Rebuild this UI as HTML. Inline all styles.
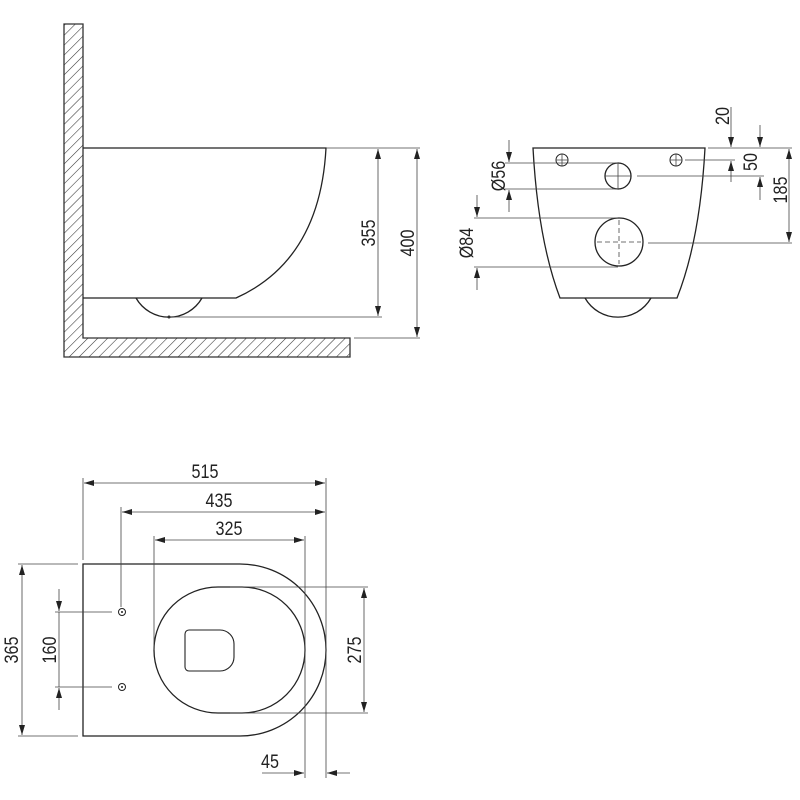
<!DOCTYPE html>
<html><head><meta charset="utf-8"><style>html,body{margin:0;padding:0;background:#fff}svg{display:block}text{font-family:"Liberation Sans",sans-serif;font-size:19px;fill:#222}</style></head><body>
<svg width="800" height="800" viewBox="0 0 800 800" xmlns="http://www.w3.org/2000/svg">
<defs>
<pattern id="h" width="7" height="7" patternUnits="userSpaceOnUse" patternTransform="rotate(45)">
<line x1="0" y1="0" x2="0" y2="7" stroke="#333" stroke-width="1.1"/>
</pattern>
<marker id="a" viewBox="0 0 10 6" refX="10" refY="3" markerWidth="10" markerHeight="6" orient="auto-start-reverse" markerUnits="userSpaceOnUse"><path d="M0,0 L10,3 L0,6z" fill="#222"/></marker>
</defs>
<g fill="none" stroke="#222" stroke-width="1.3">
<path d="M64,24 H83 V338 H350 V357 H64 Z" fill="url(#h)" stroke="#333"/>
<path d="M83,148 H326 Q320,260 236,298 H83" />
<path d="M136,298 A38,38 0 0 0 202,298"/>
</g>
<circle cx="169" cy="317" r="1.5" fill="#222"/>
<g stroke="#444" stroke-width="0.8" fill="none">
<line x1="326" y1="148" x2="420" y2="148"/>
<line x1="168" y1="317" x2="382" y2="317"/>
<line x1="354" y1="338" x2="420" y2="338"/>
<line x1="378" y1="149" x2="378" y2="316" marker-start="url(#a)" marker-end="url(#a)"/>
<line x1="417" y1="149" x2="417" y2="337" marker-start="url(#a)" marker-end="url(#a)"/>
</g>
<text transform="translate(375,233) rotate(-90) scale(0.85,1)" text-anchor="middle">355</text>
<text transform="translate(414,243) rotate(-90) scale(0.85,1)" text-anchor="middle">400</text>

<g fill="none" stroke="#222" stroke-width="1.3">
<path d="M533,148 H705 Q700,240 677,298 H560 Q538,240 533,148 Z"/>
<path d="M585,298 A38,38 0 0 0 651,298"/>
<circle cx="562" cy="160" r="6" stroke-width="1"/>
<circle cx="676" cy="160" r="6" stroke-width="1"/>
<circle cx="618" cy="176" r="13"/>
<circle cx="619" cy="242" r="24"/>
</g>
<g stroke="#444" stroke-width="0.8" fill="none">
<path d="M556,160 H568 M562,154 V166 M670,160 H682 M676,154 V166"/>
<path d="M605,176 H631 M618,163 V189"/>
<path d="M597,242 H641 M619,220 V264" stroke-dasharray="5,3"/>
<line x1="505" y1="163" x2="618" y2="163"/>
<line x1="505" y1="189" x2="618" y2="189"/>
<line x1="509" y1="140" x2="509" y2="162" marker-end="url(#a)"/>
<line x1="509" y1="212" x2="509" y2="190" marker-end="url(#a)"/>
<line x1="474" y1="218" x2="618" y2="218"/>
<line x1="474" y1="267" x2="618" y2="267"/>
<line x1="477" y1="195" x2="477" y2="217" marker-end="url(#a)"/>
<line x1="477" y1="290" x2="477" y2="268" marker-end="url(#a)"/>
<line x1="708" y1="148" x2="792" y2="148"/>
<line x1="685" y1="160" x2="735" y2="160"/>
<line x1="637" y1="176" x2="764" y2="176"/>
<line x1="648" y1="243" x2="792" y2="243"/>
<line x1="731" y1="107" x2="731" y2="147" marker-end="url(#a)"/>
<line x1="731" y1="182" x2="731" y2="161" marker-end="url(#a)"/>
<line x1="760" y1="125" x2="760" y2="147" marker-end="url(#a)"/>
<line x1="760" y1="200" x2="760" y2="177" marker-end="url(#a)"/>
<line x1="789" y1="149" x2="789" y2="242" marker-start="url(#a)" marker-end="url(#a)"/>
</g>
<text transform="translate(729,116) rotate(-90) scale(0.85,1)" text-anchor="middle">20</text>
<text transform="translate(757,162) rotate(-90) scale(0.85,1)" text-anchor="middle">50</text>
<text transform="translate(787,190) rotate(-90) scale(0.85,1)" text-anchor="middle">185</text>
<text transform="translate(505,176) rotate(-90) scale(0.85,1)" text-anchor="middle">Ø56</text>
<text transform="translate(473,243) rotate(-90) scale(0.85,1)" text-anchor="middle">Ø84</text>

<g fill="none" stroke="#222" stroke-width="1.3">
<path d="M83,564 H240 A86,86 0 0 1 240,736 H83 Z"/>
<path d="M218,587 H242 A63,63 0 0 1 242,713 H218 A64,63 0 0 1 218,587 Z"/>
<path d="M189,630 H220 A14,14 0 0 1 234,644 V657 A14,14 0 0 1 220,671 H189 A4,4 0 0 1 185,667 V634 A4,4 0 0 1 189,630 Z" stroke-width="1.1"/>
<circle cx="122" cy="612" r="3.5" stroke-width="1"/>
<circle cx="122" cy="687" r="3.5" stroke-width="1"/>
</g>
<circle cx="122" cy="612" r="1" fill="#222"/>
<circle cx="122" cy="687" r="1" fill="#222"/>
<g stroke="#444" stroke-width="0.8" fill="none">
<line x1="83" y1="478" x2="83" y2="560"/>
<line x1="326" y1="478" x2="326" y2="778"/>
<line x1="121" y1="507" x2="121" y2="607"/>
<line x1="154" y1="536" x2="154" y2="650"/>
<line x1="305" y1="536" x2="305" y2="778"/>
<line x1="84" y1="483" x2="325" y2="483" marker-start="url(#a)" marker-end="url(#a)"/>
<line x1="122" y1="512" x2="325" y2="512" marker-start="url(#a)" marker-end="url(#a)"/>
<line x1="155" y1="540" x2="304" y2="540" marker-start="url(#a)" marker-end="url(#a)"/>
<line x1="18" y1="564" x2="78" y2="564"/>
<line x1="18" y1="736" x2="78" y2="736"/>
<line x1="22" y1="565" x2="22" y2="735" marker-start="url(#a)" marker-end="url(#a)"/>
<line x1="55" y1="612" x2="112" y2="612"/>
<line x1="55" y1="687" x2="112" y2="687"/>
<line x1="59" y1="589" x2="59" y2="611" marker-end="url(#a)"/>
<line x1="59" y1="710" x2="59" y2="688" marker-end="url(#a)"/>
<line x1="59" y1="612" x2="59" y2="687"/>
<line x1="230" y1="587" x2="368" y2="587"/>
<line x1="230" y1="713" x2="368" y2="713"/>
<line x1="364" y1="588" x2="364" y2="712" marker-start="url(#a)" marker-end="url(#a)"/>
<line x1="262" y1="773" x2="304" y2="773" marker-end="url(#a)"/>
<line x1="350" y1="773" x2="327" y2="773" marker-end="url(#a)"/>
</g>
<text transform="translate(205,478) scale(0.85,1)" text-anchor="middle">515</text>
<text transform="translate(219,507) scale(0.85,1)" text-anchor="middle">435</text>
<text transform="translate(229,535) scale(0.85,1)" text-anchor="middle">325</text>
<text transform="translate(270,768) scale(0.85,1)" text-anchor="middle">45</text>
<text transform="translate(18,650) rotate(-90) scale(0.85,1)" text-anchor="middle">365</text>
<text transform="translate(56,650) rotate(-90) scale(0.85,1)" text-anchor="middle">160</text>
<text transform="translate(361,650) rotate(-90) scale(0.85,1)" text-anchor="middle">275</text>
</svg>
</body></html>
